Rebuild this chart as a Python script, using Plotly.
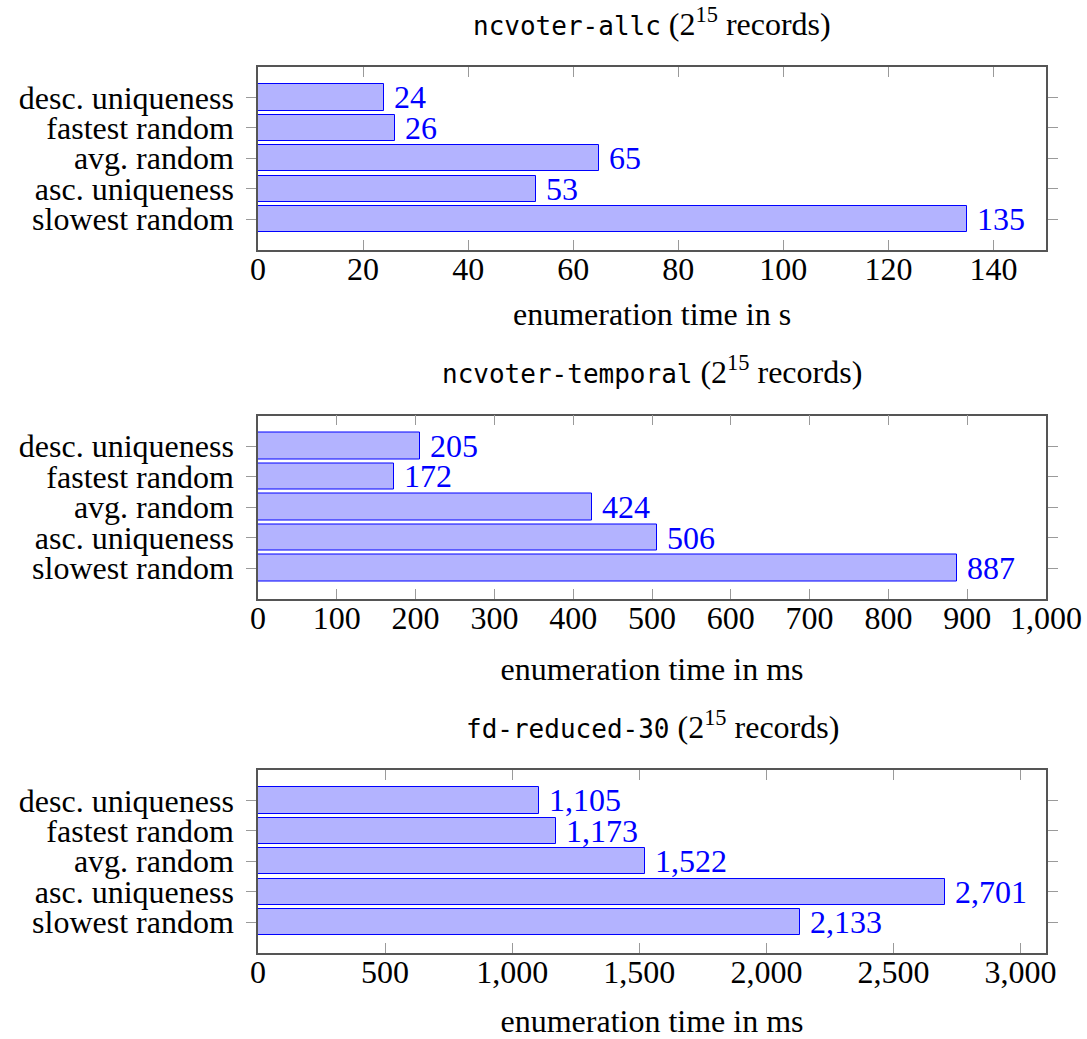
import plotly.graph_objects as go

# Strategies, listed top to bottom
categories = ["desc. uniqueness", "fastest random", "avg. random",
              "asc. uniqueness", "slowest random"]

# Enumeration times per dataset
ncvoter_allc_s = [24, 26, 65, 53, 135]
ncvoter_temporal_ms = [205, 172, 424, 506, 887]
fd_reduced_30_ms = [1105, 1173, 1522, 2701, 2133]

dataset_names = ["ncvoter-allc", "ncvoter-temporal", "fd-reduced-30"]
axis_titles = ["enumeration time in s", "enumeration time in ms", "enumeration time in ms"]
x_max = [150, 1000, 3100]
x_step = [20, 100, 500]
title_standoff = [17, 23, 25]

series = [ncvoter_allc_s, ncvoter_temporal_ms, fd_reduced_30_ms]

W, H = 1087, 1039
SERIF = "Liberation Serif, Times New Roman, serif"
MONO = "DejaVu Sans Mono"
FS = 32
BLUE = "rgb(0,0,255)"
FILL = "rgb(179,179,255)"
AXIS_COL = "#555555"
TICK_COL = "#9a9a9a"

# Plot-area boxes in pixels: (left, right, top, bottom)
boxes = [(258, 1046, 67, 249.5), (258, 1046, 415.5, 598.5), (258, 1046, 770, 952.5)]

fig = go.Figure()
positions = list(range(len(categories)))
annotations = []

for i, (vals, box) in enumerate(zip(series, boxes)):
    n = "" if i == 0 else str(i + 1)
    xa, ya = "x" + n, "y" + n
    left, right, top, bottom = box
    xdom = [left / W, right / W]
    ydom = [1 - bottom / H, 1 - top / H]

    fig.add_trace(go.Bar(
        x=vals, y=positions, orientation="h", width=0.86,
        marker=dict(color=FILL, line=dict(color=BLUE, width=1)),
        xaxis=xa, yaxis=ya, showlegend=False, hoverinfo="skip",
    ))

    for v, p in zip(vals, positions):
        annotations.append(dict(
            x=v, y=p, xref=xa, yref=ya, text=f"{v:,}", showarrow=False,
            xanchor="left", yanchor="middle", xshift=8,
            font=dict(family=SERIF, size=FS, color=BLUE),
        ))

    annotations.append(dict(
        x=(xdom[0] + xdom[1]) / 2, y=ydom[1], xref="paper", yref="paper",
        text=(f'<span style="font-family:{MONO};font-size:26px">{dataset_names[i]}</span>'
              ' (2<sup>15</sup> records)'),
        showarrow=False, xanchor="center", yanchor="middle", yshift=45,
        font=dict(family=SERIF, size=FS, color="black"),
    ))

    fig.update_layout(**{
        ("xaxis" + n): dict(
            domain=xdom, anchor=ya, range=[0, x_max[i]], automargin=False,
            tickmode="linear", tick0=0, dtick=x_step[i], tickformat=",d",
            ticks="inside", ticklen=10, tickwidth=1, tickcolor=TICK_COL,
            showline=True, linecolor=AXIS_COL, linewidth=1.5, mirror="ticks",
            showgrid=False, zeroline=False, ticklabelstandoff=-10,
            tickfont=dict(family=SERIF, size=FS, color="black"),
            title=dict(text=axis_titles[i], standoff=title_standoff[i],
                       font=dict(family=SERIF, size=FS, color="black")),
            fixedrange=True,
        ),
        ("yaxis" + n): dict(
            domain=ydom, anchor=xa, range=[len(categories), -1], automargin=False,
            tickmode="array", tickvals=positions, ticktext=categories,
            ticks="outside", ticklen=10, tickwidth=1, tickcolor=TICK_COL,
            showline=True, linecolor=AXIS_COL, linewidth=1.5, mirror="ticks",
            showgrid=False, zeroline=False, ticklabelstandoff=6,
            tickfont=dict(family=SERIF, size=FS, color="black"),
            fixedrange=True,
        ),
    })

fig.update_layout(
    width=W, height=H, autosize=False,
    margin=dict(l=0, r=0, t=0, b=0, autoexpand=False),
    paper_bgcolor="white", plot_bgcolor="white",
    annotations=annotations, bargap=0,
)

fig.write_html("out.html")
